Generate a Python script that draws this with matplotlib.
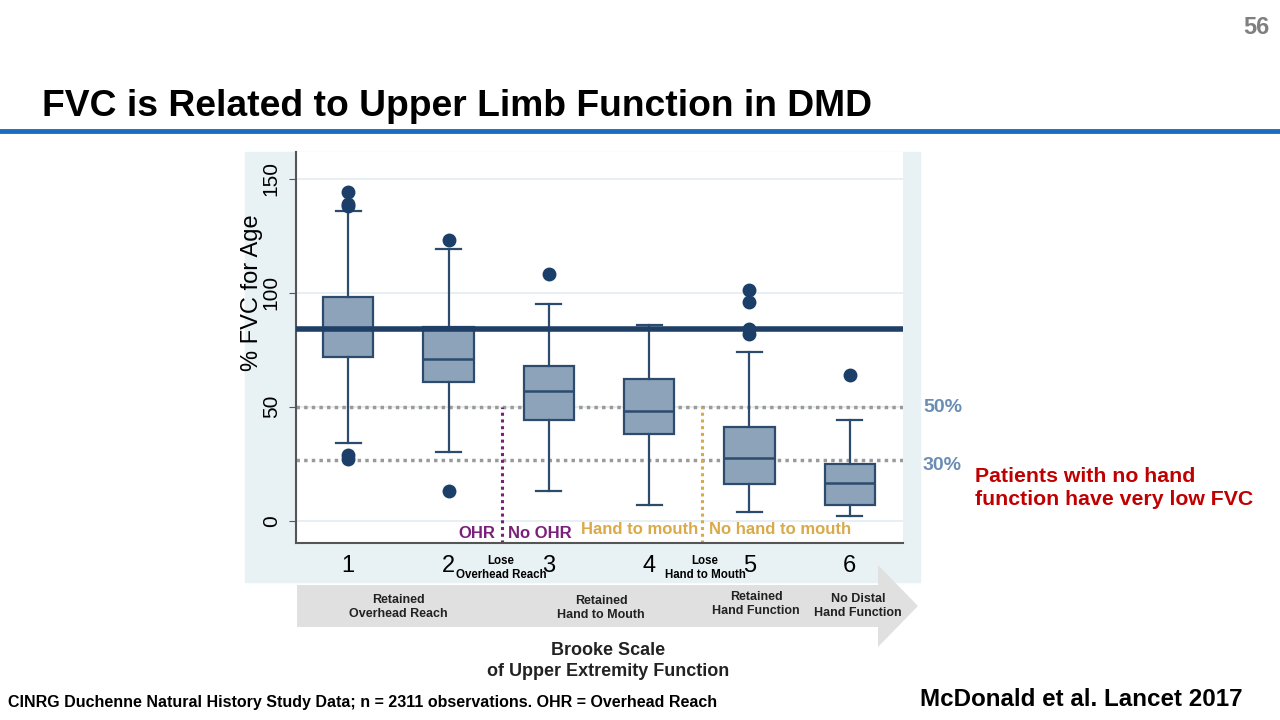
import matplotlib
matplotlib.use("Agg")
from matplotlib import pyplot as plt
from matplotlib.patches import Rectangle, Polygon
from matplotlib.lines import Line2D

# Brooke scale groups and box statistics
grades = [1, 2, 3, 4, 5, 6]
q1 = [72, 61, 44, 38, 16, 7]
medians = [84, 71, 57, 48, 27.5, 16.5]
q3 = [98, 85, 68, 62, 41, 25]
whisk_lo = [34, 30, 13, 7, 4, 2]
whisk_hi = [136, 119, 95, 86, 74, 44]
outliers = [[144, 139, 138, 29, 27], [123, 13], [108], [], [101, 96, 84, 82], [64]]

normal_line = 84
ref_lines = [50, 26.5]
ref_labels = ["50%", "30%"]

W, H = 1280, 720
fig = plt.figure(figsize=(12.8, 7.2), dpi=100)
plt.rcParams['font.family'] = ['Liberation Sans', 'DejaVu Sans']


def fx(x):
    return x / W


def fy(y):
    return 1 - y / H


# light panel behind the chart
fig.patches.append(Rectangle((fx(245), fy(582)), fx(920) - fx(245), fy(152) - fy(582),
                             transform=fig.transFigure, color='#e8f1f4', zorder=-1))

ax = fig.add_axes([fx(296), fy(543), fx(903) - fx(296), fy(152) - fy(543)])
ax.set_facecolor('white')

stats = []
for i in range(len(grades)):
    stats.append(dict(med=medians[i], q1=q1[i], q3=q3[i], whislo=whisk_lo[i],
                      whishi=whisk_hi[i], fliers=outliers[i]))

ax.bxp(stats, positions=grades, widths=0.5, patch_artist=True,
       boxprops=dict(facecolor='#8da3ba', edgecolor='#2d4b6d', linewidth=1.6),
       medianprops=dict(color='#2d4b6d', linewidth=1.8),
       whiskerprops=dict(color='#2d4b6d', linewidth=1.6),
       capprops=dict(color='#2d4b6d', linewidth=1.6),
       flierprops=dict(marker='o', markerfacecolor='#1b3f68', markeredgecolor='#1b3f68',
                       markersize=9))

# grid
for g in [0, 50, 100, 150]:
    ax.axhline(g, color='#e3ecf0', lw=1.2, zorder=0)

for r in ref_lines:
    ax.axhline(r, color='#9a9a9a', lw=2.5, ls=(0, (1, 1.2)), zorder=1)
ax.axhline(normal_line, color='#1f3f66', lw=4, zorder=5)

# transitions
ax.plot([2.53, 2.53], [-10, 50], color='#7b1f7a', lw=2.2, ls=(0, (1, 1.2)))
ax.plot([4.53, 4.53], [-10, 50], color='#d9a94a', lw=2.2, ls=(0, (1, 1.2)))
ax.text(2.47, -5.5, "OHR", color='#7b1f7a', fontsize=12, fontweight='bold', ha='right', va='center')
ax.text(2.59, -5.5, "No OHR", color='#7b1f7a', fontsize=12, fontweight='bold', ha='left', va='center')
ax.text(4.49, -4, "Hand to mouth", color='#d9a94a', fontsize=12, fontweight='bold', ha='right', va='center')
ax.text(4.6, -4, "No hand to mouth", color='#d9a94a', fontsize=12, fontweight='bold', ha='left', va='center')

ax.set_xlim(0.48, 6.53)
ax.set_ylim(-9.8, 161.7)
ax.set_yticks([0, 50, 100, 150])
ax.set_yticklabels(['0', '50', '100', '150'], rotation=90, va='center', fontsize=15)
ax.set_xticks(grades)
ax.set_xticklabels([str(g) for g in grades], fontsize=17)
ax.tick_params(axis='x', length=0, pad=9)
ax.tick_params(axis='y', length=5, color='#555555', pad=6)
ax.set_ylabel("% FVC for Age", fontsize=17)
ax.yaxis.set_label_coords(-0.054, 0.64)
for s in ['top', 'right']:
    ax.spines[s].set_visible(False)
for s in ['left', 'bottom']:
    ax.spines[s].set_color('#555555')
    ax.spines[s].set_linewidth(1.5)

# reference labels
fig.text(fx(923), fy(408), ref_labels[0], color='#6a8db3', fontsize=14, fontweight='bold', va='center')
fig.text(fx(923), fy(465), ref_labels[1], color='#6a8db3', fontsize=14, fontweight='bold', va='center')

# "Lose" labels between grades
fig.text(fx(501), fy(568), "Lose\nOverhead Reach", fontsize=8.3, fontweight='bold', ha='center',
         va='center', linespacing=1.15)
fig.text(fx(705), fy(568), "Lose\nHand to Mouth", fontsize=8.3, fontweight='bold', ha='center',
         va='center', linespacing=1.15)

# Brooke scale arrow
arrow = Polygon([(fx(297), fy(585)), (fx(878), fy(585)), (fx(878), fy(565)), (fx(918), fy(606)),
                 (fx(878), fy(647)), (fx(878), fy(627)), (fx(297), fy(627))],
                closed=True, transform=fig.transFigure, facecolor='#e0e0e0', edgecolor='none', zorder=2)
fig.patches.append(arrow)
for x, y, t in [(398, 607, "Retained\nOverhead Reach"), (601, 608, "Retained\nHand to Mouth"),
                (756, 604, "Retained\nHand Function"), (858, 606, "No Distal\nHand Function")]:
    fig.text(fx(x), fy(y), t, fontsize=9, fontweight='bold', ha='center', va='center',
             linespacing=1.2, color='#222222')

fig.text(fx(608), fy(661), "Brooke Scale\nof Upper Extremity Function", fontsize=13,
         fontweight='bold', ha='center', va='center', linespacing=1.25, color='#222222')

# slide furniture
fig.text(fx(42), fy(106), "FVC is Related to Upper Limb Function in DMD", fontsize=26.8,
         fontweight='bold', ha='left', va='center')
fig.text(fx(1270), fy(28), "56", fontsize=17, fontweight='bold', color='#7f7f7f', ha='right', va='center')
fig.add_artist(Line2D([0, 1], [fy(131), fy(131)], transform=fig.transFigure, color='#1a6cc0', lw=3.5))

fig.text(fx(975), fy(488), "Patients with no hand\nfunction have very low FVC", fontsize=15.3,
         fontweight='bold', color='#c00000', ha='left', va='center', linespacing=1.3)

fig.text(fx(8), fy(703), "CINRG Duchenne Natural History Study Data; n = 2311 observations. OHR = Overhead Reach",
         fontsize=11.5, fontweight='bold', ha='left', va='center')
fig.text(fx(1242), fy(700), "McDonald et al. Lancet 2017", fontsize=17.4, fontweight='bold',
         ha='right', va='center')

fig.savefig("out.png", dpi=100)
